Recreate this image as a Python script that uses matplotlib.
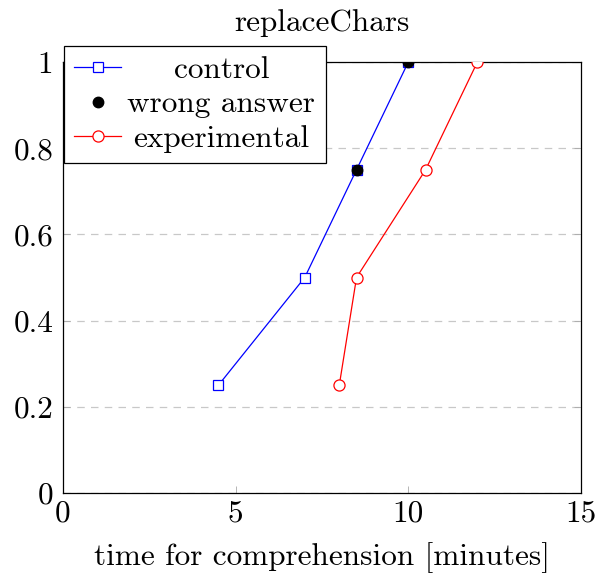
import matplotlib
matplotlib.use("Agg")
import matplotlib.pyplot as plt

# Cumulative share of participants vs. time for comprehension
control_time = [4.5, 7.0, 8.5, 10.0]
control_share = [0.25, 0.5, 0.75, 1.0]
wrong_time = [8.5, 10.0]
wrong_share = [0.75, 1.0]
experimental_time = [8.0, 8.5, 10.5, 12.0]
experimental_share = [0.25, 0.5, 0.75, 1.0]

x_ticks = [0, 5, 10, 15]
y_ticks = [0, 0.2, 0.4, 0.6, 0.8, 1.0]
y_tick_labels = ["0", "0.2", "0.4", "0.6", "0.8", "1"]

plt.rcParams["font.family"] = ["cmr10", "DejaVu Serif"]
plt.rcParams["axes.unicode_minus"] = False
fs = 22.5

fig = plt.figure(figsize=(5.97, 5.76), dpi=100)
ax = fig.add_axes([63 / 597, 1 - 493 / 576, (581 - 63) / 597, (493 - 62) / 576])

ax.set_xlim(0, 15)
ax.set_ylim(0, 1)
ax.set_xticks(x_ticks)
ax.set_xticklabels([str(t) for t in x_ticks])
ax.set_yticks(y_ticks)
ax.set_yticklabels(y_tick_labels)
ax.tick_params(axis="both", direction="in", length=5, width=0.6, color="#aaaaaa",
               labelsize=fs, top=False, right=True)
ax.tick_params(axis="x", pad=5)
ax.tick_params(axis="y", pad=7)
ax.yaxis.grid(True, linestyle=(0, (6, 5)), color="#c8c8c8", linewidth=0.9)
ax.set_axisbelow(True)
for s in ax.spines.values():
    s.set_linewidth(0.9)

ax.plot(control_time, control_share, color="blue", linewidth=0.9, marker="s",
        markersize=7, markerfacecolor="white", markeredgecolor="blue",
        markeredgewidth=0.9, label="control", zorder=3)
ax.plot(wrong_time, wrong_share, linestyle="none", marker="o", markersize=7.5,
        color="black", label="wrong answer", zorder=4)
ax.plot(experimental_time, experimental_share, color="red", linewidth=0.9, marker="o",
        markersize=8, markerfacecolor="white", markeredgecolor="red",
        markeredgewidth=0.9, label="experimental", zorder=3)

ax.set_title("replaceChars", fontsize=fs, pad=22)
ax.set_xlabel("time for comprehension [minutes]", fontsize=fs, labelpad=10)

leg = ax.legend(loc="upper left", bbox_to_anchor=(0.002, 1.037), fontsize=fs,
                frameon=True, fancybox=False, edgecolor="black", framealpha=1,
                borderpad=0.33, handlelength=1.5, handletextpad=0.2,
                labelspacing=0.2, borderaxespad=0.0)
leg.get_frame().set_linewidth(0.9)
leg.set_zorder(10)

# centre the legend entries within the text column
fig.canvas.draw()
renderer = fig.canvas.get_renderer()
texts = leg.get_texts()
widths = [t.get_window_extent(renderer).width for t in texts]
col_w = max(widths)
for t, w in zip(texts, widths):
    t.set_position(((col_w - w) / 2, 0))

fig.savefig("out.png", dpi=100)
